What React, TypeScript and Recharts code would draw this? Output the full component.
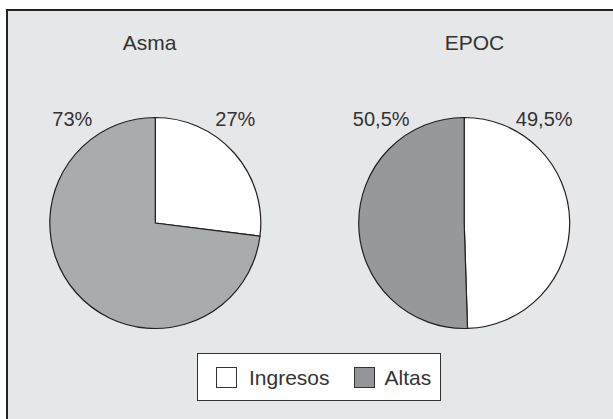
import { PieChart, Pie, Cell, Legend } from "recharts";

const categories = ["Ingresos", "Altas"];
const asmaValues = [27, 73];
const epocValues = [49.5, 50.5];
const chartTitles = ["Asma", "EPOC"];

const FONT = "'Liberation Sans', Arial, Helvetica, sans-serif";
const TEXT = "#333";
const STROKE = "#231f20";
const RAD = Math.PI / 180;

const asmaData = categories.map((name, i) => ({ name, value: asmaValues[i] }));
const epocData = categories.map((name, i) => ({ name, value: epocValues[i] }));

// Altas is a lighter grey in the Asma pie than in the EPOC pie / legend
const asmaColors = ["#ffffff", "#aaabad"];
const epocColors = ["#ffffff", "#97989b"];

const fmtPct = (v: number) => `${String(v).replace(".", ",")}%`;

const renderPct = (props: any) => {
    const { cx, cy, outerRadius, midAngle, value } = props;
    const right = Math.cos(midAngle * RAD) > 0;
    return (
        <text
            x={cx + (right ? 80 : -83)}
            y={cy - outerRadius + 8.5}
            textAnchor="middle"
            fontSize={20}
            fontFamily={FONT}
            fill={TEXT}
        >
            {fmtPct(value)}
        </text>
    );
};

// one entry per category, coloured like the EPOC pie
const LegendBox = () => (
    <div
        style={{
            boxSizing: "border-box",
            width: 244,
            height: 48,
            border: "1.5px solid #333",
            background: "#fff",
            display: "flex",
            alignItems: "center",
            paddingLeft: 18,
            fontFamily: FONT,
            fontSize: 21,
            color: TEXT,
        }}
    >
        {categories.map((name, i) => (
            <div key={name} style={{ display: "flex", alignItems: "center", marginLeft: i === 0 ? 0 : 24 }}>
                <span
                    style={{
                        boxSizing: "border-box",
                        width: 21,
                        height: 21,
                        border: "1.2px solid #333",
                        background: i === 0 ? epocColors[0] : "#939598",
                        marginRight: i === 0 ? 12 : 10,
                    }}
                />
                <span style={{ lineHeight: "21px" }}>{name}</span>
            </div>
        ))}
    </div>
);

export default function App() {
    return (
        <div
            style={{
                position: "absolute",
                left: 6,
                top: 9,
                width: 607,
                height: 410,
                boxSizing: "border-box",
                borderTop: "2px solid #222",
                borderLeft: "2px solid #222",
                background: "#e6e7e8",
            }}
        >
            <PieChart width={605} height={408} margin={{ top: 0, right: 0, bottom: 0, left: 0 }}>
                <text x={141.5} y={39} textAnchor="middle" fontSize={21} fontFamily={FONT} fill={TEXT}>
                    {chartTitles[0]}
                </text>
                <text x={466.5} y={39} textAnchor="middle" fontSize={21} fontFamily={FONT} fill={TEXT}>
                    {chartTitles[1]}
                </text>
                <Pie
                    data={asmaData}
                    dataKey="value"
                    nameKey="name"
                    cx={147.3}
                    cy={212}
                    outerRadius={105.5}
                    startAngle={90}
                    endAngle={-270}
                    stroke={STROKE}
                    strokeWidth={1.2}
                    label={renderPct}
                    labelLine={false}
                    isAnimationActive={false}
                >
                    {asmaData.map((d, i) => (
                        <Cell key={d.name} fill={asmaColors[i]} />
                    ))}
                </Pie>
                <Pie
                    data={epocData}
                    dataKey="value"
                    nameKey="name"
                    cx={456.2}
                    cy={212}
                    outerRadius={105.5}
                    startAngle={90}
                    endAngle={-270}
                    stroke={STROKE}
                    strokeWidth={1.2}
                    label={renderPct}
                    labelLine={false}
                    isAnimationActive={false}
                >
                    {epocData.map((d, i) => (
                        <Cell key={d.name} fill={epocColors[i]} />
                    ))}
                </Pie>
                <Legend
                    content={LegendBox}
                    wrapperStyle={{ position: "absolute", left: 189, top: 342, width: 244, height: 48, bottom: "auto" }}
                />
            </PieChart>
        </div>
    );
}
